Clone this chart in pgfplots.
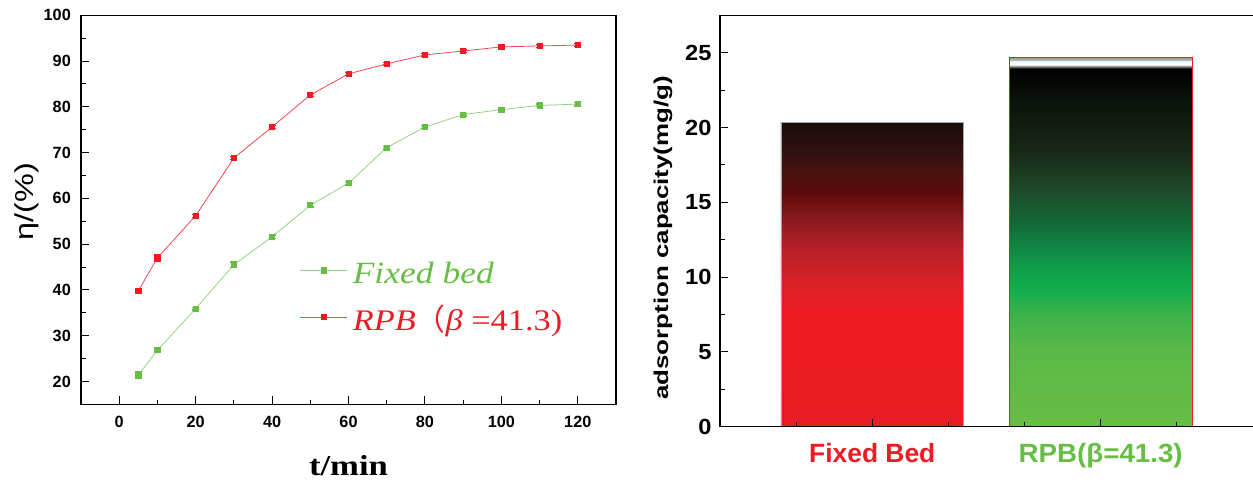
\documentclass[border=0pt]{standalone}
\usepackage{pgfplots}
\pgfplotsset{compat=1.18}
\usepackage{pgfplotstable}
\usepackage{fontspec}
\setmainfont{Liberation Serif}
\newfontfamily\cjk{Noto Sans CJK SC}
\newfontfamily\lsans{Liberation Sans}
\newfontfamily\lsansR[FakeStretch=1.3]{Liberation Sans}
\newfontfamily\lsansY[FakeStretch=1.25]{Liberation Sans}
\newfontfamily\lsansW[FakeStretch=1.08]{Liberation Sans}
\newfontfamily\lsansG[FakeStretch=1.05]{Liberation Sans}
\newfontfamily\serifW[FakeStretch=1.15]{Liberation Serif}
\newfontfamily\serifX[FakeStretch=1.2]{Liberation Serif}

\definecolor{redM}{HTML}{ED1C24}
\definecolor{greenM}{HTML}{68BD45}
\definecolor{redL}{HTML}{F04A50}
\definecolor{greenL}{HTML}{96D283}

% fixed bed gradient
\definecolor{fa}{HTML}{E81C24}
\definecolor{fb}{HTML}{ED1C24}
\definecolor{fc}{HTML}{DA2027}
\definecolor{fd}{HTML}{B82027}
\definecolor{fe}{HTML}{8B1A1F}
\definecolor{ff}{HTML}{5E0A0A}
\definecolor{fg}{HTML}{4A1212}
\definecolor{fh}{HTML}{2E1010}
\definecolor{fi}{HTML}{1A0C0C}
\pgfdeclareverticalshading{fixedshade}{100bp}{color(0bp)=(fa); color(25bp)=(fa); color(44.2bp)=(fb); color(48.6bp)=(fc); color(54bp)=(fd); color(59bp)=(fe); color(63.5bp)=(ff); color(66.8bp)=(fg); color(70.5bp)=(fh); color(75bp)=(fi); color(100bp)=(fi)}

% RPB gradient
\definecolor{ga}{HTML}{68BD45}
\definecolor{gb}{HTML}{5AB848}
\definecolor{gc}{HTML}{3FB34A}
\definecolor{gd}{HTML}{14AE4D}
\definecolor{ge}{HTML}{10A04A}
\definecolor{gf}{HTML}{107A40}
\definecolor{gg}{HTML}{126A38}
\definecolor{gh}{HTML}{1F4A2A}
\definecolor{gi}{HTML}{172717}
\definecolor{gj}{HTML}{0B120B}
\definecolor{gk}{HTML}{000000}
\definecolor{gl}{HTML}{808080}
\definecolor{gm}{HTML}{FFFFFF}
\definecolor{gn}{HTML}{A0A0A0}
\pgfdeclareverticalshading{rpbshade}{100bp}{color(0bp)=(ga); color(25bp)=(ga); color(35.3bp)=(gb); color(39.9bp)=(gc); color(43.4bp)=(gd); color(46.3bp)=(ge); color(50.7bp)=(gf); color(52.4bp)=(gg); color(57bp)=(gh); color(62.5bp)=(gi); color(69.2bp)=(gj); color(73.5bp)=(gk); color(73.8bp)=(gl); color(74.05bp)=(gm); color(74.5bp)=(gm); color(74.75bp)=(gn); color(75bp)=(gn); color(100bp)=(gn)}

\pgfplotstableread{
x y e
5 39.8 0.3
10 47.0 0.8
20 56.2 0.3
30 68.8 0.3
40 75.6 0.3
50 82.6 0.3
60 87.2 0.3
70 89.4 0.3
80 91.35 0.3
90 92.2 0.3
100 93.1 0.3
110 93.3 0.3
120 93.5 0.3
}\rpbdata

\pgfplotstableread{
x y e
5 21.4 0.8
10 26.8 0.4
20 35.9 0.3
30 45.5 0.6
40 51.6 0.4
50 58.5 0.4
60 63.3 0.4
70 71.1 0.3
80 75.6 0.3
90 78.3 0.3
100 79.4 0.3
110 80.3 0.3
120 80.6 0.4
}\fixeddata

\begin{document}
\begin{tikzpicture}[x=1bp,y=1bp]
\begin{axis}[
  at={(81bp,75.7bp)}, anchor=south west, scale only axis,
  width=535bp, height=389bp,
  xmin=-10, xmax=130, ymin=15, ymax=100,
  xtick={0,20,...,120}, ytick={20,30,...,100},
  minor x tick num=1, minor y tick num=1,
  tick align=inside, tick pos=left,
  major tick length=8bp, minor tick length=4.5bp,
  axis line style={line width=1.3bp},
  every tick/.style={line width=1bp, black},
  /pgf/number format/assume math mode=true,
  tick label style={font=\lsans\bfseries\fontsize{16.3}{17}\selectfont, inner sep=0pt},
  yticklabel shift=10bp, xticklabel shift=12bp,
  every axis y label/.style={at={(rel axis cs:0,0.521)}, xshift=-54bp, rotate=90, anchor=center},
  ylabel={\lsansY\fontsize{26}{27}\selectfont η/(\%)},
  every axis x label/.style={at={(rel axis cs:0.5,0)}, anchor=base, yshift=-70.7bp},
  xlabel={\serifX\bfseries\fontsize{29}{30}\selectfont t/min},
  legend style={draw=none, fill=none, at={(rel axis cs:0.4093,0.362)}, anchor=north west,
    inner sep=0pt, outer sep=0pt, row sep=20.7bp,
    nodes={inner sep=0pt, text height=20bp, text depth=6bp},
    column sep=5bp},
  legend cell align=left,
  legend image code/.code={\draw[#1,mark repeat=2,mark phase=2] plot coordinates {(0bp,6bp) (23.5bp,6bp) (47bp,6bp)};},
]
\addplot[greenL, line width=0.8bp, mark=square*, mark size=2.6bp,
  mark options={draw=greenM, fill=greenM},
  error bars/.cd, y dir=both, y explicit,
  error bar style={greenM, line width=1.2bp},
  error mark options={greenM, rotate=90, mark size=3.5bp, line width=1.2bp}]
  table[x=x, y=y, y error=e]{\fixeddata};
\addlegendentry{\serifW\itshape\fontsize{31}{31}\selectfont\color{greenM}Fixed bed}
\addplot[redL, line width=0.8bp, mark=square*, mark size=2.6bp,
  mark options={draw=redM, fill=redM},
  error bars/.cd, y dir=both, y explicit,
  error bar style={redM, line width=1.2bp},
  error mark options={redM, rotate=90, mark size=3.5bp, line width=1.2bp}]
  table[x=x, y=y, y error=e]{\rpbdata};
\addlegendentry{\serifW\fontsize{30}{30}\selectfont\color{redM}\textit{RPB}{\cjk （}\textit{β} =41.3)}
\end{axis}

\begin{axis}[
  at={(720bp,53.3bp)}, anchor=south west, scale only axis,
  width=533bp, height=411.4bp,
  xmin=0.33333, xmax=2.66667, ymin=0, ymax=27.5,
  axis x line*=box, axis y line*=left,
  xtick={1,2}, minor xtick={0.66667,1.33333,1.66667,2.33333},
  xticklabels={{\color{redM}Fixed Bed},{\raisebox{-7bp}{\lsansG\color{greenM}RPB(β=41.3)}}},
  ytick={0,5,...,25}, minor ytick={2.5,7.5,...,22.5},
  tick align=inside, xtick pos=bottom, ytick pos=left,
  major tick length=8bp, minor tick length=5bp,
  axis line style={line width=1.3bp},
  every tick/.style={line width=1bp, black},
  axis on top,
  /pgf/number format/assume math mode=true,
  yticklabel style={font=\lsansW\bfseries\fontsize{22}{23}\selectfont, inner sep=0pt},
  xticklabel style={font=\lsans\bfseries\fontsize{26.5}{27}\selectfont, inner sep=0pt},
  yticklabel shift=8.3bp, xticklabel shift=16bp,
  every axis y label/.style={at={(rel axis cs:0,0.459)}, xshift=-57bp, rotate=90, anchor=center},
  ylabel={\lsansR\bfseries\fontsize{20}{21}\selectfont adsorption capacity(mg/g)},
]
\addplot[ybar, bar width=0.8, bar shift=0pt, draw=gray!70, line width=0.7bp,
  shading=fixedshade, shade] coordinates {(1,20.32)};
\addplot[ybar, bar width=0.8, bar shift=0pt, draw=redM, line width=0.9bp,
  shading=rpbshade, shade] coordinates {(2,24.67)};
\end{axis}
\pgfresetboundingbox
\path[use as bounding box] (0,0) rectangle (1253bp,480bp);
\end{tikzpicture}
\end{document}
